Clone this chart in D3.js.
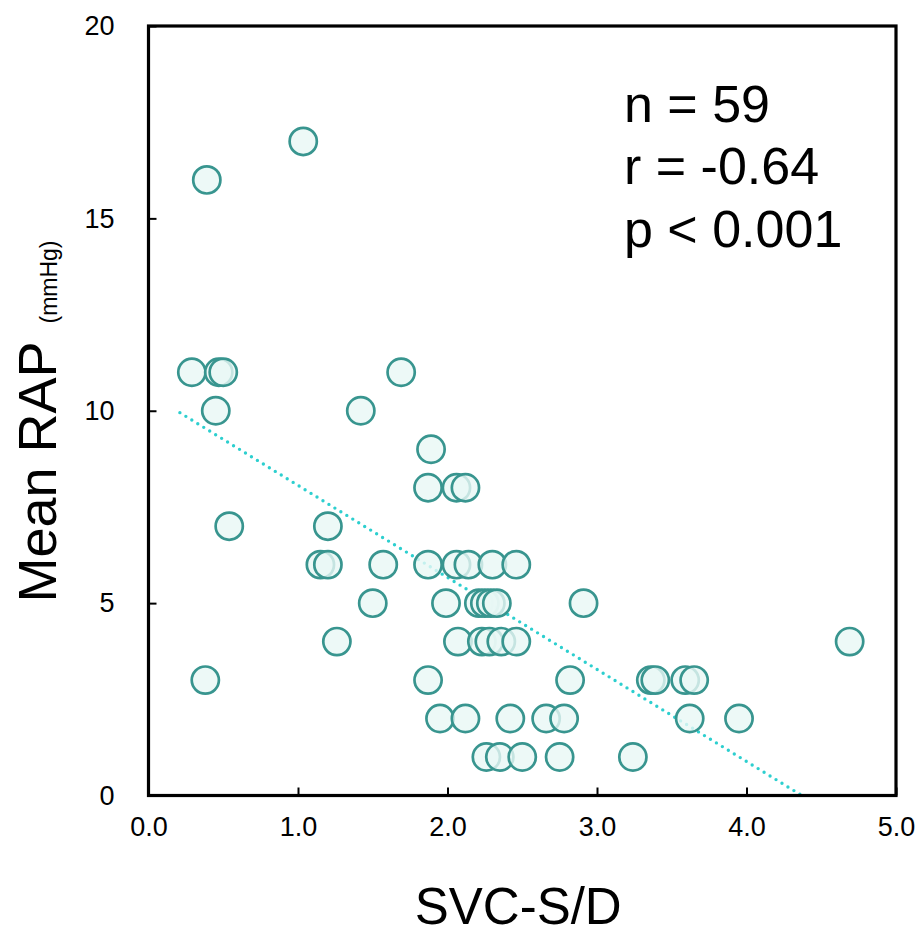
<!DOCTYPE html>
<html>
<head>
<meta charset="utf-8">
<script src="https://cdn.jsdelivr.net/npm/d3@7"></script>
<style>
  body { margin: 0; background: #fff; }
  svg text { font-family: "Liberation Sans", Arial, sans-serif; fill: #000; }
</style>
</head>
<body>
<script>
// SVC-S/D ratio of each patient, grouped by mean RAP (mmHg)
const rapLevels = [17, 16, 11, 10, 9, 8, 7, 6, 5, 4, 3, 2, 1];
const svcByRap = [
  [1.035],
  [0.39],
  [0.29, 0.47, 0.50, 1.69],
  [0.45, 1.42],
  [1.89],
  [1.87, 2.06, 2.12],
  [0.54, 1.20],
  [1.15, 1.20, 1.57, 1.87, 2.06, 2.14, 2.30, 2.46],
  [1.50, 1.99, 2.21, 2.25, 2.29, 2.33, 2.91],
  [1.26, 2.07, 2.23, 2.28, 2.36, 2.46, 4.69],
  [0.38, 1.87, 2.82, 3.36, 3.39, 3.59, 3.65],
  [1.95, 2.12, 2.42, 2.66, 2.78, 3.62, 3.95],
  [2.26, 2.35, 2.50, 2.75, 3.24]
];
// regression line end points
const trendX = [0.21, 4.37];
const trendY = [9.95, 0];
const xTicks = [0, 1, 2, 3, 4, 5];
const yTicks = [0, 5, 10, 15, 20];
const statLines = ["n = 59", "r = -0.64", "p < 0.001"];

const points = [];
rapLevels.forEach((rap, i) => svcByRap[i].forEach(v => points.push({x: v, y: rap})));

const W = 918, H = 935;
const svg = d3.select("body").append("svg")
    .attr("width", W)
    .attr("height", H);

const x = d3.scaleLinear().domain([0, 5]).range([148.5, 896]);
const y = d3.scaleLinear().domain([0, 20]).range([795.5, 26]);

// trend line (dotted)
svg.append("line")
    .attr("x1", x(trendX[0])).attr("y1", y(trendY[0]))
    .attr("x2", x(trendX[1])).attr("y2", y(trendY[1]))
    .attr("stroke", "#2dcfcf")
    .attr("stroke-width", 3.4)
    .attr("stroke-linecap", "round")
    .attr("stroke-dasharray", "0 7");

// points
svg.append("g")
    .selectAll("circle")
    .data(points)
    .join("circle")
    .attr("cx", d => x(d.x))
    .attr("cy", d => y(d.y))
    .attr("r", 13.6)
    .attr("fill", "#e9f7f5")
    .attr("fill-opacity", 0.8)
    .attr("stroke", "#38958f")
    .attr("stroke-width", 2.7);

// frame
svg.append("rect")
    .attr("x", x(0)).attr("y", y(20))
    .attr("width", x(5) - x(0))
    .attr("height", y(0) - y(20))
    .attr("fill", "none")
    .attr("stroke", "#000")
    .attr("stroke-width", 3.2);

// axes with inward ticks
const xAxis = svg.append("g")
    .attr("transform", `translate(0,${y(0)})`)
    .call(d3.axisBottom(x).tickValues(xTicks).tickSize(-8).tickPadding(21).tickFormat(d3.format(".1f")));
const yAxis = svg.append("g")
    .attr("transform", `translate(${x(0)},0)`)
    .call(d3.axisLeft(y).tickValues(yTicks).tickSize(-8).tickPadding(34).tickFormat(d3.format("d")));

[xAxis, yAxis].forEach(g => {
  g.select(".domain").remove();
  g.selectAll(".tick line").attr("stroke", "#000").attr("stroke-width", 2);
  g.selectAll(".tick text").attr("font-size", 27).attr("fill", "#000");
});
xAxis.selectAll(".tick text").attr("dy", "0.71em");

// axis titles
svg.append("text")
    .attr("x", x(2.5) - 4)
    .attr("y", 924)
    .attr("text-anchor", "middle")
    .attr("font-size", 51)
    .text("SVC-S/D");

svg.append("text")
    .attr("transform", "translate(56,472) rotate(-90)")
    .attr("text-anchor", "middle")
    .attr("font-size", 54)
    .text("Mean RAP");

svg.append("text")
    .attr("transform", "translate(57,282) rotate(-90)")
    .attr("text-anchor", "middle")
    .attr("font-size", 23)
    .text("(mmHg)");

// statistics
svg.append("g")
    .selectAll("text")
    .data(statLines)
    .join("text")
    .attr("x", 624)
    .attr("y", (d, i) => 121.5 + i * 62.5)
    .attr("font-size", 52)
    .text(d => d);
</script>
</body>
</html>
